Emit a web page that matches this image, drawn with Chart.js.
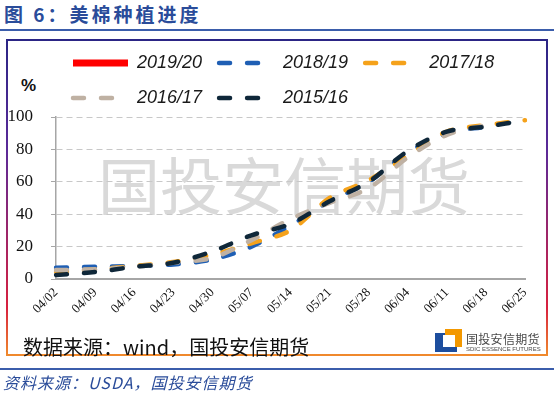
<!DOCTYPE html>
<html>
<head>
<meta charset="utf-8">
<script src="https://cdn.jsdelivr.net/npm/chart.js@4.4.1/dist/chart.umd.min.js"></script>
<style>
  html, body { margin: 0; padding: 0; background: #fff; }
  body { width: 554px; height: 397px; position: relative; overflow: hidden; font-family: "Noto Sans CJK SC", sans-serif; }
  #title { position: absolute; left: 4px; top: 2px; font-size: 19px; line-height: 24px; font-weight: bold; color: #2a4c9a; letter-spacing: 3px; white-space: nowrap; }
  .rule { position: absolute; left: 0; width: 554px; height: 2px; background: #3b5dab; }
  #frame { position: absolute; left: 6px; top: 39px; width: 538px; height: 313px; border: 2px solid #2b2585;
    border-image: linear-gradient(to bottom, #2b2585, #5b2a98 35%, #d8203e 85%, #f08a2c) 1; }
  #watermark { position: absolute; left: 98px; top: 150px; font-size: 62px; line-height: 66px; color: #d9d9d9; white-space: nowrap; }
  #pct { position: absolute; left: 21px; top: 76px; font: bold 17px "Liberation Sans", Arial, sans-serif; color: #111; }
  #chart { position: absolute; left: 0; top: 0; }
  #inner-src { position: absolute; left: 23px; top: 334px; font-size: 20px; line-height: 26px; color: #111; white-space: nowrap; }
  #logo-blue { position: absolute; left: 435px; top: 333px; width: 22px; height: 19px; background: #1d4e9e; }
  #logo-orange { position: absolute; left: 445px; top: 329px; width: 17px; height: 18px; background: #f39800; }
  #logo-white { position: absolute; left: 443px; top: 335px; width: 12px; height: 12px; background: #fff; }
  #logo-cn { position: absolute; left: 466px; top: 331px; font-size: 12px; line-height: 15px; color: #4a4a4a; letter-spacing: 0.3px; white-space: nowrap; }
  #logo-en { position: absolute; left: 466px; top: 346px; font: 6px "Liberation Sans Narrow", "Liberation Sans", sans-serif; color: #4a4a4a; white-space: nowrap; }
  #source { position: absolute; left: 3px; top: 372px; font-size: 16px; line-height: 20px; font-style: italic; color: #2a4c9a; letter-spacing: 1px; white-space: nowrap; }
</style>
</head>
<body>
<div id="title">图 6：美棉种植进度</div>
<div class="rule" style="top:29px"></div>
<div id="frame"></div>
<div id="watermark">国投安信期货</div>
<div id="pct">%</div>
<canvas id="chart" width="554" height="397"></canvas>
<div id="inner-src">数据来源：wind，国投安信期货</div>
<div id="logo-blue"></div>
<div id="logo-orange"></div>
<div id="logo-white"></div>
<div id="logo-cn">国投安信期货</div>
<div id="logo-en">SDIC ESSENCE FUTURES</div>
<div class="rule" style="top:368px"></div>
<div id="source">资料来源：USDA，国投安信期货</div>
<script>
// planting progress, % of area planted, by week
const weeks = ['04/02', '04/09', '04/16', '04/23', '04/30', '05/07', '05/14', '05/21', '05/28', '06/04', '06/11', '06/18', '06/25'];
const yTicks = [0, 20, 40, 60, 80, 100];

const s2019 = [null, null, null, null, null, null, null, null, null, null, null, null, null];
const s2018 = [7, 7.5, 8, 9, 12, 20, 33, 48, 60, 78, 90, 94, null];
const s2017 = [4.5, 6, 8, 10.5, 15, 22, 30, 50, 61, 76, 91, 95, 98];
const s2016 = [5.5, 6, 7.5, 10, 13, 24, 37, 47, 56, 75, 89, 95, null];
const s2015 = [2.5, 4.3, 7.5, 10, 17, 27, 34, 48, 60, 79, 91, 94, 98];

const seriesNames = ['2019/20', '2018/19', '2017/18', '2016/17', '2015/16'];
const seriesColors = ['#ff0000', '#1f5fb4', '#f5a21b', '#bfb1a3', '#0f2739'];

function dashedSet(i, data) {
  return {
    label: seriesNames[i],
    data: data,
    borderColor: seriesColors[i],
    backgroundColor: seriesColors[i],
    borderWidth: 4.5,
    borderDash: [11, 17],
    borderCapStyle: 'round',
    pointRadius: 0,
    tension: 0.3,
    fill: false,
    order: 4 - i
  };
}

const datasets = [
  {
    label: seriesNames[0],
    data: s2019,
    borderColor: seriesColors[0],
    backgroundColor: seriesColors[0],
    borderWidth: 7,
    borderDash: [],
    borderCapStyle: 'butt',
    pointRadius: 0,
    fill: false,
    order: 4
  },
  dashedSet(1, s2018),
  dashedSet(2, s2017),
  dashedSet(3, s2016),
  dashedSet(4, s2015)
];

new Chart(document.getElementById('chart'), {
  type: 'line',
  data: { labels: weeks, datasets: datasets },
  options: {
    responsive: false,
    devicePixelRatio: 1,
    animation: false,
    layout: { padding: { left: 8, right: 29, top: 37, bottom: 68 } },
    plugins: {
      tooltip: { enabled: false },
      legend: {
        position: 'top',
        align: 'start',
        fullSize: false,   // legend only as wide as the plot, so rows start at the y axis
        labels: {
          usePointStyle: true,
          pointStyleWidth: 55,
          padding: 17,
          color: '#1a1a1a',
          font: { family: 'Liberation Sans', style: 'italic', size: 18 },
          // build items straight from the datasets so dash / width / cap carry over
          generateLabels: chart => chart.data.datasets.map((ds, i) => ({
            text: ds.label,
            datasetIndex: i,
            fillStyle: ds.borderColor,
            strokeStyle: ds.borderColor,
            lineWidth: ds.borderWidth,
            lineDash: ds.borderDash,
            lineCap: ds.borderCapStyle,
            pointStyle: 'line',
            hidden: false,
            fontColor: '#1a1a1a'
          }))
        }
      }
    },
    scales: {
      x: {
        offset: false,
        grid: { display: false, drawTicks: false },
        border: { display: true, color: '#a6a6a6', width: 2 },
        ticks: {
          autoSkip: false,
          minRotation: 45,
          maxRotation: 45,
          padding: 6,
          color: '#111',
          font: { family: 'Liberation Serif', size: 13 }
        },
        afterFit: s => { s.height = 50; }
      },
      y: {
        min: 0,
        max: 100,
        afterBuildTicks: s => { s.ticks = yTicks.map(v => ({ value: v })); },
        grid: { color: '#c8c8c8', lineWidth: 1, tickLength: 5, tickColor: '#a6a6a6', tickBorderDash: [] },
        border: { display: true, color: '#a6a6a6', width: 1.5, dash: [6, 4] },
        ticks: {
          padding: 18,
          color: '#111',
          font: { family: 'Liberation Serif', size: 17 }
        },
        afterFit: s => { s.width = 48; }
      }
    }
  }
});
</script>
</body>
</html>
